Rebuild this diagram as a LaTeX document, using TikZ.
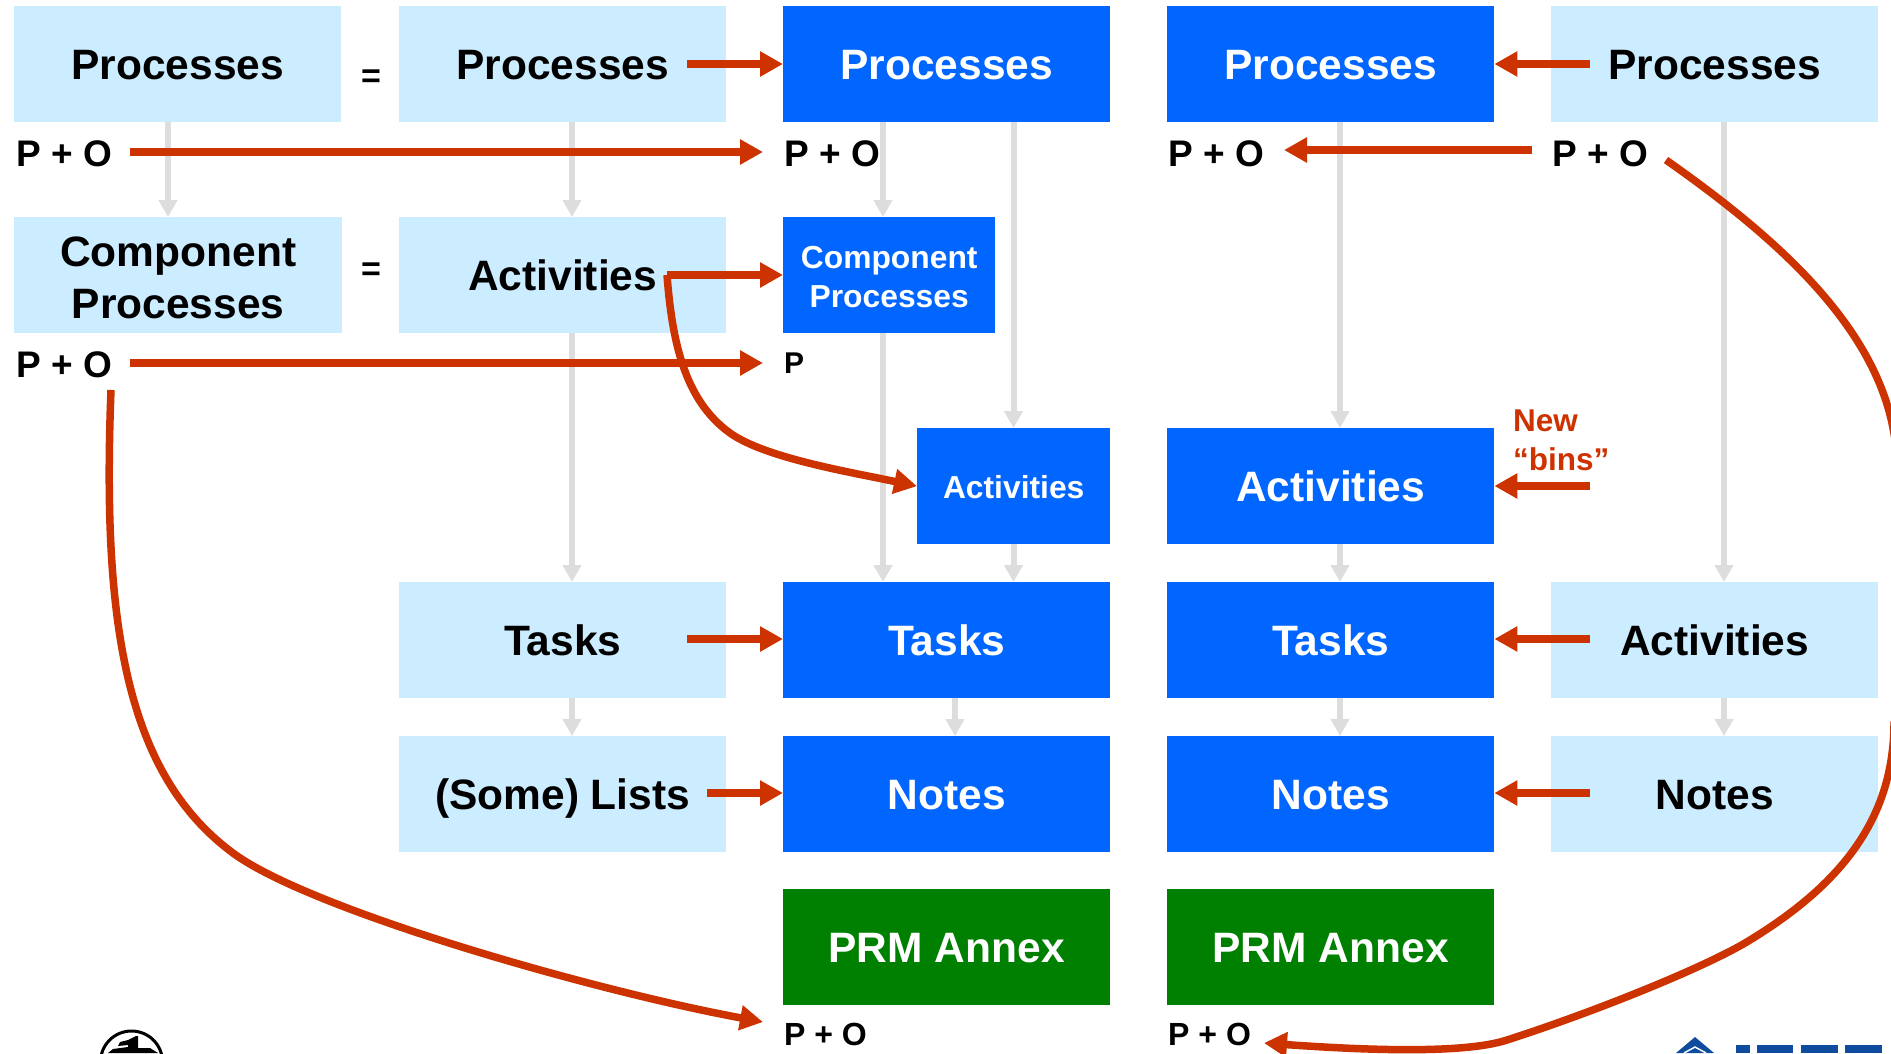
\documentclass[tikz,border=0pt]{standalone}
\usepackage{fontspec}
\setmainfont{Liberation Sans}
\usetikzlibrary{arrows.meta,positioning,calc}
\definecolor{lb}{HTML}{CCECFF}
\definecolor{bb}{HTML}{0066FF}
\definecolor{gb}{HTML}{008000}
\definecolor{rd}{HTML}{CC3300}
\definecolor{gy}{HTML}{DDDDDD}
\definecolor{ieee}{HTML}{0F4C9E}
\tikzset{
 boxbase/.style={anchor=north west,inner sep=0pt,minimum width=327pt,minimum height=116pt,align=center,font=\fontsize{42.5}{52}\selectfont\bfseries},
 light/.style={boxbase,fill=lb,text=black},
 blue/.style={boxbase,fill=bb,text=white},
 green/.style={boxbase,fill=gb,text=white},
 fixedh/.style={text height=31pt,text depth=0pt},
 small/.style={font=\fontsize{31.8}{39}\selectfont\bfseries},
 lab/.style={anchor=west,inner sep=0pt,font=\fontsize{37}{44}\selectfont\bfseries},
 labs/.style={anchor=west,inner sep=0pt,font=\fontsize{32}{38}\selectfont\bfseries},
 eqs/.style={inner sep=0pt,font=\fontsize{34}{40}\selectfont\bfseries},
 newb/.style={anchor=west,inner sep=0pt,text=rd,font=\fontsize{31.5}{36}\selectfont\bfseries},
 gra/.style={draw=gy,line width=6pt,-{Triangle[length=17pt,width=18pt]}},
 red/.style={draw=rd,line width=7.5pt,-{Triangle[length=23pt,width=24pt]}},
}
\begin{document}
\begin{tikzpicture}[x=1pt,y=-1pt]
\clip (0,0) rectangle (1891,1053);
\fill[white] (0,0) rectangle (1891,1053);
% guide coordinates for the vertical connectors
\coordinate (xa) at (168,0);
\coordinate (xb) at (572,0);
\coordinate (xc) at (883,0);
\coordinate (xd) at (1013.5,0);
\coordinate (xe) at (955,0);
\coordinate (xf) at (1340,0);
\coordinate (xg) at (1724,0);
% boxes
\node[light,fixedh] (a1) at (14,6) {Processes};
\node[light,minimum width=328pt] (a2) at (14,217) {\rule{0pt}{35pt}Component\\Processes};
\node[light,fixedh] (b1) at (399,6) {Processes};
\node[light,fixedh] (b2) at (399,217) {Activities};
\node[light,fixedh] (b4) at (399,582) {Tasks};
\node[light,fixedh] (b5) at (399,736) {(Some) Lists};
\node[blue,fixedh] (c1) at (783,6) {Processes};
\node[blue,small,minimum width=212pt] (c2) at (783,217) {\rule{0pt}{26pt}Component\\Processes};
\node[blue,small,fixedh,text height=24.5pt,minimum width=193pt] (c3) at (917,428) {Activities};
\node[blue,fixedh] (c4) at (783,582) {Tasks};
\node[blue,fixedh] (c5) at (783,736) {Notes};
\node[green,fixedh] (c6) at (783,889) {PRM Annex};
\node[blue,fixedh] (d1) at (1167,6) {Processes};
\node[blue,fixedh] (d3) at (1167,428) {Activities};
\node[blue,fixedh] (d4) at (1167,582) {Tasks};
\node[blue,fixedh] (d5) at (1167,736) {Notes};
\node[green,fixedh] (d6) at (1167,889) {PRM Annex};
\node[light,fixedh] (e1) at (1551,6) {Processes};
\node[light,fixedh] (e4) at (1551,582) {Activities};
\node[light,fixedh] (e5) at (1551,736) {Notes};
% grey connectors
\draw[gra] (a1.south -| xa) -- (a2.north -| xa);
\draw[gra] (b1.south -| xb) -- (b2.north -| xb);
\draw[gra] (b2.south -| xb) -- (b4.north -| xb);
\draw[gra] (b4.south -| xb) -- (b5.north -| xb);
\draw[gra] (c1.south -| xc) -- (c2.north -| xc);
\draw[gra] (c2.south -| xc) -- (c4.north -| xc);
\draw[gra] (c1.south -| xd) -- (c3.north -| xd);
\draw[gra] (c3.south -| xd) -- (c4.north -| xd);
\draw[gra] (c4.south -| xe) -- (c5.north -| xe);
\draw[gra] (d1.south -| xf) -- (d3.north -| xf);
\draw[gra] (d3.south -| xf) -- (d4.north -| xf);
\draw[gra] (d4.south -| xf) -- (d5.north -| xf);
\draw[gra] (e1.south -| xg) -- (e4.north -| xg);
\draw[gra] (e4.south -| xg) -- (e5.north -| xg);
% labels
\node[eqs] (eq1) at (371,79) {=};
\node[eqs] (eq2) at (371,272) {=};
\node[lab] (po1) at (16,154) {P + O};
\node[lab] (po2) at (16,365) {P + O};
\node[lab] (po3) at (784,154) {P + O};
\node[lab] (po4) at (1168,154) {P + O};
\node[lab] (po5) at (1552,154) {P + O};
\node[labs,font=\fontsize{30}{34}\selectfont\bfseries] (p6) at (784,363) {P};
\node[labs] (po7) at (784,1034) {P + O};
\node[labs] (po8) at (1168,1034) {P + O};
\node[newb] (nw) at (1513,421) {New};
\node[newb] (bi) at (1513,459) {“bins”};
% free ends of the red connectors
\coordinate (s1) at (687,64);
\coordinate (s2) at (130,152);
\coordinate (t2) at (763,152);
\coordinate (s3) at (1590,64);
\coordinate (s4) at (1532,150);
\coordinate (t4) at (1284,150);
\coordinate (s5) at (667,275);
\coordinate (s6) at (130,363);
\coordinate (t6) at (763,363);
\coordinate (s8) at (687,639);
\coordinate (s9) at (707,793);
\coordinate (s10) at (1590,639);
\coordinate (s11) at (1590,793);
\coordinate (s12) at (1590,486);
\coordinate (s13) at (111,390);
\coordinate (t13) at (763,1022);
\coordinate (s14) at (1666,160);
\coordinate (t14) at (1264,1043);
% red connectors
\draw[red] (s1) -- (c1.west |- s1);
\draw[red] (s2) -- (t2);
\draw[red] (s3) -- (d1.east |- s3);
\draw[red] (s4) -- (t4);
\draw[red] (s5) -- (c2.west |- s5);
\draw[red] (s6) -- (t6);
\draw[red] (s8) -- (c4.west |- s8);
\draw[red] (s9) -- (c5.west |- s9);
\draw[red] (s10) -- (d4.east |- s10);
\draw[red] (s11) -- (d5.east |- s11);
\draw[red] (s12) -- (d3.east |- s12);
\draw[red] (s5) .. controls (672,340) and (684,400) .. (730,433) .. controls (765,458) and (850,472) .. (c3.west);
\draw[red] (s13) .. controls (102,620) and (125,770) .. (229,850) .. controls (300,907) and (590,990) .. (t13);
\draw[red] (s14) .. controls (1780,240) and (1880,330) .. (1895,440) -- (1897,725) -- (1894,725) .. controls (1893,820) and (1840,885) .. (1750,940) .. controls (1710,965) and (1600,1010) .. (1507,1040) .. controls (1470,1052) and (1390,1052) .. (t14);
% logos at the lower edge
\draw[black,line width=3pt] (131.5,1062) circle (31pt);
\fill[black] (118,1046) -- (120,1042) -- (128,1040) -- (136,1036) -- (138,1036) -- (138,1048) -- (150,1048) -- (158,1053) -- (108,1053) -- (113,1049) -- (128,1047) -- (128,1045) -- cycle;
\fill[ieee] (1695,1037) -- (1714,1053) -- (1676,1053) -- cycle;
\draw[white,line width=1.5pt] (1684,1053) -- (1695,1047) -- (1706,1053);
\fill[ieee] (1736,1045) rectangle (1750,1053);
\fill[ieee] (1757,1045) rectangle (1793,1053);
\fill[ieee] (1801,1045) rectangle (1838,1053);
\fill[ieee] (1845,1045) rectangle (1882,1053);
\end{tikzpicture}
\end{document}
